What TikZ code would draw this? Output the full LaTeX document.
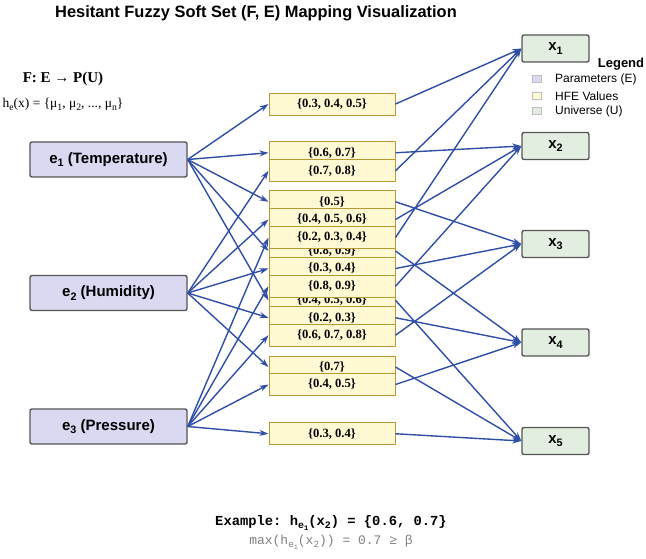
\documentclass[tikz,border=0pt]{standalone}
\usepackage{fontspec}
\setmainfont{Liberation Serif}
\setsansfont{Liberation Sans}
\setmonofont{Liberation Mono}
\usepackage{xcolor}
\usepackage{tikz}
\usetikzlibrary{arrows.meta,calc,positioning}
\definecolor{parfill}{RGB}{217,217,242}
\definecolor{hfefill}{RGB}{255,249,212}
\definecolor{hfeline}{RGB}{186,152,52}
\definecolor{unifill}{RGB}{226,239,224}
\definecolor{boxline}{RGB}{85,85,85}
\definecolor{mapblue}{RGB}{47,78,165}
\newcommand{\sub}[1]{\raisebox{-0.45ex}{\scalebox{0.72}{#1}}}

\begin{document}
\begin{tikzpicture}[x=1pt,y=-1pt,
  par/.style={draw=boxline,line width=1.4pt,rounded corners=2pt,fill=parfill,minimum width=157pt,
              minimum height=35pt,font=\sffamily\bfseries\fontsize{15}{17}\selectfont},
  uni/.style={draw=boxline,line width=1.4pt,rounded corners=2pt,fill=unifill,minimum width=67pt,
              minimum height=27pt,font=\sffamily\bfseries\fontsize{15}{17}\selectfont},
  hfe/.style={draw=hfeline,line width=1pt,fill=hfefill,minimum width=126pt,minimum height=22pt,
              inner sep=0pt,font=\bfseries\fontsize{12.6}{13}\selectfont},
  map/.style={-{Stealth[length=9pt,width=6pt]},mapblue,line width=1.4pt},
  swatch/.style={draw=black!25,line width=0.4pt,fill=#1,minimum width=9pt,minimum height=7pt,inner sep=0pt},
  legtext/.style={anchor=west,inner sep=0pt,font=\sffamily\fontsize{12}{13}\selectfont}]
  \useasboundingbox (0,0) rectangle (646,558);
  \node[font=\sffamily\bfseries\fontsize{16.4}{18}\selectfont] (title) at (256,13) {Hesitant Fuzzy Soft Set (F, E) Mapping Visualization};
  \node[font=\bfseries\fontsize{15}{17}\selectfont] (map) at (63,79) {F: E → P(U)};
  \node[font=\fontsize{13.5}{15}\selectfont,inner sep=0pt] (hdef) at (63,104) {h\sub{e}(x) = \{μ\sub{1}, μ\sub{2}, ..., μ\sub{n}\}};
  % parameters and universe
  \node[par] (e1) at (108.5,159.5) {e\sub{1} (Temperature)};
  \node[par] (e2) at (108.5,293) {e\sub{2} (Humidity)};
  \node[par] (e3) at (108.5,426.5) {e\sub{3} (Pressure)};
  \foreach \j/\y in {1/48.5,2/146,3/244,4/342.5,5/441}
    \node[uni] (x\j) at (555.5,\y) {x\sub{\j}};
  % hesitant fuzzy elements, half way between e_i and x_j
  \coordinate (hcol) at (332,0);
  \foreach \i/\j/\v in {1/1/{0.3, 0.4, 0.5},1/2/{0.6, 0.7},1/3/{0.5},1/4/{0.8, 0.9},1/5/{0.4, 0.5, 0.6},
                        2/1/{0.7, 0.8},2/2/{0.4, 0.5, 0.6},2/3/{0.3, 0.4},2/4/{0.2, 0.3},2/5/{0.7},
                        3/1/{0.2, 0.3, 0.4},3/2/{0.8, 0.9},3/3/{0.6, 0.7, 0.8},3/4/{0.4, 0.5},3/5/{0.3, 0.4}}
    \node[hfe] (h\i\j) at ($(e\i)!0.5!(x\j)$ -| hcol) {\{\v\}};
  \foreach \i in {1,2,3}
    \foreach \j in {1,...,5} {
      \draw[map] (e\i.east) -- (h\i\j.west);
      \draw[map] (h\i\j.east) -- (x\j.west);
    }
  % legend
  \node[font=\sffamily\bfseries\fontsize{13}{14}\selectfont] (leg) at (621,64) {Legend};
  \node[swatch=parfill] (s1) at (537,79) {};
  \node[swatch=hfefill] (s2) at (537,96) {};
  \node[swatch=unifill] (s3) at (537,111) {};
  \node[legtext] (l1) at (555,79) {Parameters (E)};
  \node[legtext] (l2) at (555,96) {HFE Values};
  \node[legtext] (l3) at (555,111) {Universe (U)};
  % example
  \node[font=\ttfamily\bfseries\fontsize{13.8}{15}\selectfont] (ex) at (331,523) {Example: h\sub{e\sub{1}}(x\sub{2}) = \{0.6, 0.7\}};
  \node[font=\ttfamily\fontsize{13}{14}\selectfont,text=black!50] (exmax) at (331,542) {max(h\sub{e\sub{1}}(x\sub{2})) = 0.7 ≥ β};
\end{tikzpicture}
\end{document}
